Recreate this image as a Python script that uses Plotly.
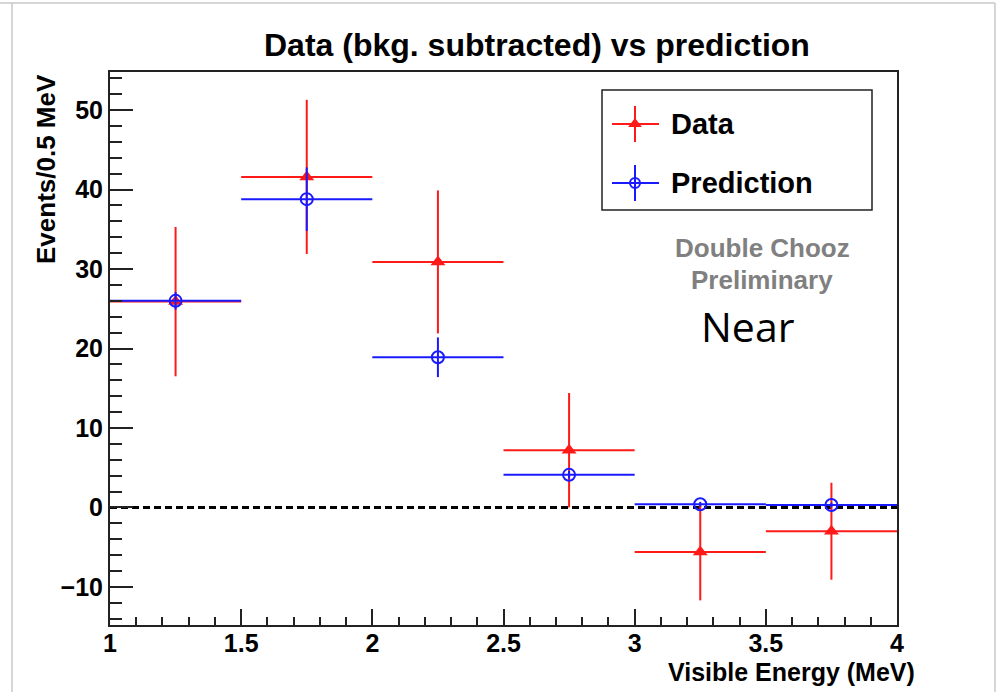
import plotly.graph_objects as go

# Bin centres and half-widths of visible energy (MeV)
energy = [1.25, 1.75, 2.25, 2.75, 3.25, 3.75]
half_width = [0.25, 0.25, 0.25, 0.25, 0.25, 0.25]

# Background-subtracted data and statistical errors
data_vals = [25.9, 41.6, 30.9, 7.2, -5.6, -3.0]
data_errs = [9.4, 9.7, 9.0, 7.2, 6.1, 6.1]

# Predicted spectrum and its uncertainties
pred_vals = [26.0, 38.8, 18.9, 4.1, 0.4, 0.3]
pred_errs = [1.1, 4.0, 2.5, 0.5, 0.3, 0.3]

x_ticks = [1, 1.5, 2, 2.5, 3, 3.5, 4]
y_ticks = [-10, 0, 10, 20, 30, 40, 50]

W_PX, H_PX = 996, 692
L, R, T, B = 110, 897, 72, 625
PW, PH = R - L, B - T


def px(x):
    return (x - L) / PW


def py(y):
    return (B - y) / PH


RED = "#ff1a1a"
BLUE = "#1a1aff"
FONT = "Liberation Sans"

fig = go.Figure()

fig.add_trace(go.Scatter(
    x=energy, y=data_vals, mode="markers", name="Data",
    marker=dict(symbol="triangle-up", size=13, color=RED),
    error_x=dict(type="data", array=half_width, width=0, thickness=2, color=RED),
    error_y=dict(type="data", array=data_errs, width=0, thickness=2, color=RED),
    showlegend=False,
))
fig.add_trace(go.Scatter(
    x=energy, y=pred_vals, mode="markers", name="Prediction",
    marker=dict(symbol="circle-open", size=12, color=BLUE, line=dict(width=2, color=BLUE)),
    error_x=dict(type="data", array=half_width, width=0, thickness=2, color=BLUE),
    error_y=dict(type="data", array=pred_errs, width=0, thickness=2, color=BLUE),
    showlegend=False,
))

# Hand-drawn legend markers on an overlay axis spanning the plot area
fig.add_trace(go.Scatter(
    x=[px(635)], y=[py(124)], xaxis="x2", yaxis="y2", mode="markers",
    marker=dict(symbol="triangle-up", size=12, color=RED), showlegend=False,
    hoverinfo="skip",
))
fig.add_trace(go.Scatter(
    x=[px(635)], y=[py(183)], xaxis="x2", yaxis="y2", mode="markers",
    marker=dict(symbol="circle-open", size=10, color=BLUE, line=dict(width=2, color=BLUE)),
    showlegend=False, hoverinfo="skip",
))

shapes = []
# zero reference line
shapes.append(dict(type="line", xref="paper", yref="y", x0=0, x1=1, y0=0, y1=0,
                   line=dict(color="black", width=3, dash="7px,4px"), layer="below"))
# legend frame
shapes.append(dict(type="rect", xref="paper", yref="paper",
                   x0=px(602), x1=px(872), y0=py(90), y1=py(210),
                   line=dict(color="#222", width=1.5), fillcolor="rgba(0,0,0,0)", layer="above"))
# legend error crosses
for yc, col in [(124, RED), (183, BLUE)]:
    shapes.append(dict(type="line", xref="paper", yref="paper",
                       x0=px(612), x1=px(659), y0=py(yc), y1=py(yc),
                       line=dict(color=col, width=2)))
    shapes.append(dict(type="line", xref="paper", yref="paper",
                       x0=px(635), x1=px(635), y0=py(yc - 18), y1=py(yc + 18),
                       line=dict(color=col, width=2)))
# outer canvas frame
frame_col = "#c8c8c8"
shapes.append(dict(type="line", xref="paper", yref="paper",
                   x0=px(12), x1=px(12), y0=py(3), y1=py(692), line=dict(color=frame_col, width=1.5)))
shapes.append(dict(type="line", xref="paper", yref="paper",
                   x0=px(0), x1=px(995), y0=py(3), y1=py(3), line=dict(color=frame_col, width=1.5)))
shapes.append(dict(type="line", xref="paper", yref="paper",
                   x0=px(995), x1=px(995), y0=py(3), y1=py(692), line=dict(color=frame_col, width=1.5)))

annotations = [
    dict(text="Data (bkg. subtracted) vs prediction", x=px(537), y=py(45),
         font=dict(family=FONT, size=32, color="black", weight="bold")),
    dict(text="Events/0.5 MeV", x=px(46), y=py(169), textangle=-90,
         font=dict(family=FONT, size=26, color="black", weight="bold")),
    dict(text="Visible Energy (MeV)", x=px(917), y=py(672), xanchor="right",
         font=dict(family=FONT, size=25, color="black", weight="bold")),
    dict(text="Data", x=px(669), y=py(124), xanchor="left",
         font=dict(family=FONT, size=29, color="black", weight="bold")),
    dict(text="Prediction", x=px(669), y=py(183), xanchor="left",
         font=dict(family=FONT, size=29, color="black", weight="bold")),
    dict(text="Double Chooz", x=px(762), y=py(248),
         font=dict(family=FONT, size=26, color="#808080", weight="bold")),
    dict(text="Preliminary", x=px(762), y=py(280),
         font=dict(family=FONT, size=26, color="#808080", weight="bold")),
    dict(text="Near", x=px(748), y=py(326),
         font=dict(family="Open Sans", size=41, color="black")),
]
for a in annotations:
    a.setdefault("xref", "paper")
    a.setdefault("yref", "paper")
    a.setdefault("showarrow", False)
    a.setdefault("xanchor", "center")
    a.setdefault("yanchor", "middle")

fig.update_layout(
    width=W_PX, height=H_PX, autosize=False,
    margin=dict(l=L, r=W_PX - R, t=T, b=H_PX - B, pad=0),
    paper_bgcolor="white", plot_bgcolor="white",
    shapes=shapes, annotations=annotations,
    xaxis=dict(range=[1, 4], tickvals=x_ticks, ticktext=[f"{v:g}" for v in x_ticks],
               ticks="inside", ticklen=16, tickwidth=2, tickcolor="#222",
               ticklabelstandoff=-5,
               minor=dict(ticks="inside", ticklen=8, dtick=0.1, tick0=1, tickwidth=1.5, tickcolor="#222"),
               showline=True, mirror=True, linecolor="#222", linewidth=2,
               showgrid=False, zeroline=False,
               tickfont=dict(family=FONT, size=25, color="black", weight="bold")),
    yaxis=dict(range=[-14.8, 54.8], tickvals=y_ticks,
               ticks="inside", ticklen=23, tickwidth=2, tickcolor="#222",
               minor=dict(ticks="inside", ticklen=12, dtick=2, tick0=0, tickwidth=1.5, tickcolor="#222"),
               showline=True, mirror=True, linecolor="#222", linewidth=2,
               showgrid=False, zeroline=False,
               tickfont=dict(family=FONT, size=25, color="black", weight="bold")),
    xaxis2=dict(range=[0, 1], overlaying="x", anchor="y2", visible=False),
    yaxis2=dict(range=[0, 1], overlaying="y", anchor="x2", visible=False),
)

fig.write_html("out.html")
